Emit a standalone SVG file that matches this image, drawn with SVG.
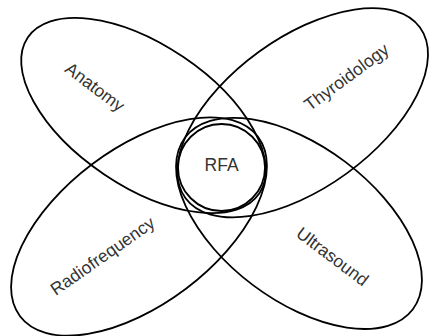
<svg xmlns="http://www.w3.org/2000/svg" width="430" height="336" viewBox="0 0 430 336">
<style>
.shape{fill:none;stroke:#000;stroke-width:1.8}
.lbl{font-family:"Liberation Sans",Arial,Helvetica,sans-serif;font-size:17.5px;fill:#333;text-anchor:middle;dominant-baseline:central}
</style>
<rect width="430" height="336" fill="#fff"/>
<g id="anatomy">
<ellipse class="shape" cx="0" cy="0" rx="139.6" ry="70.8" transform="translate(143.5 115.5) rotate(34)"/>
<text class="lbl" transform="translate(95 87) rotate(37)">Anatomy</text>
</g>
<g id="thyroidology">
<ellipse class="shape" cx="0" cy="0" rx="145" ry="75" transform="translate(302.7 112.7) rotate(-36)"/>
<text class="lbl" transform="translate(346.5 77) rotate(-36.5)">Thyroidology</text>
</g>
<g id="radiofrequency">
<ellipse class="shape" cx="0" cy="0" rx="149" ry="78" transform="translate(139 226.5) rotate(-37)"/>
<text class="lbl" transform="translate(102.5 256) rotate(-35)">Radiofrequency</text>
</g>
<g id="ultrasound">
<ellipse class="shape" cx="0" cy="0" rx="142.6" ry="77" transform="translate(299 223.4) rotate(37)"/>
<text class="lbl" transform="translate(332.5 256.5) rotate(37)">Ultrasound</text>
</g>
<g id="rfa">
<circle class="shape" cx="221.5" cy="167.5" r="43.5"/>
<text class="lbl" x="221.6" y="165">RFA</text>
</g>
<g id="connectors"/>
</svg>
